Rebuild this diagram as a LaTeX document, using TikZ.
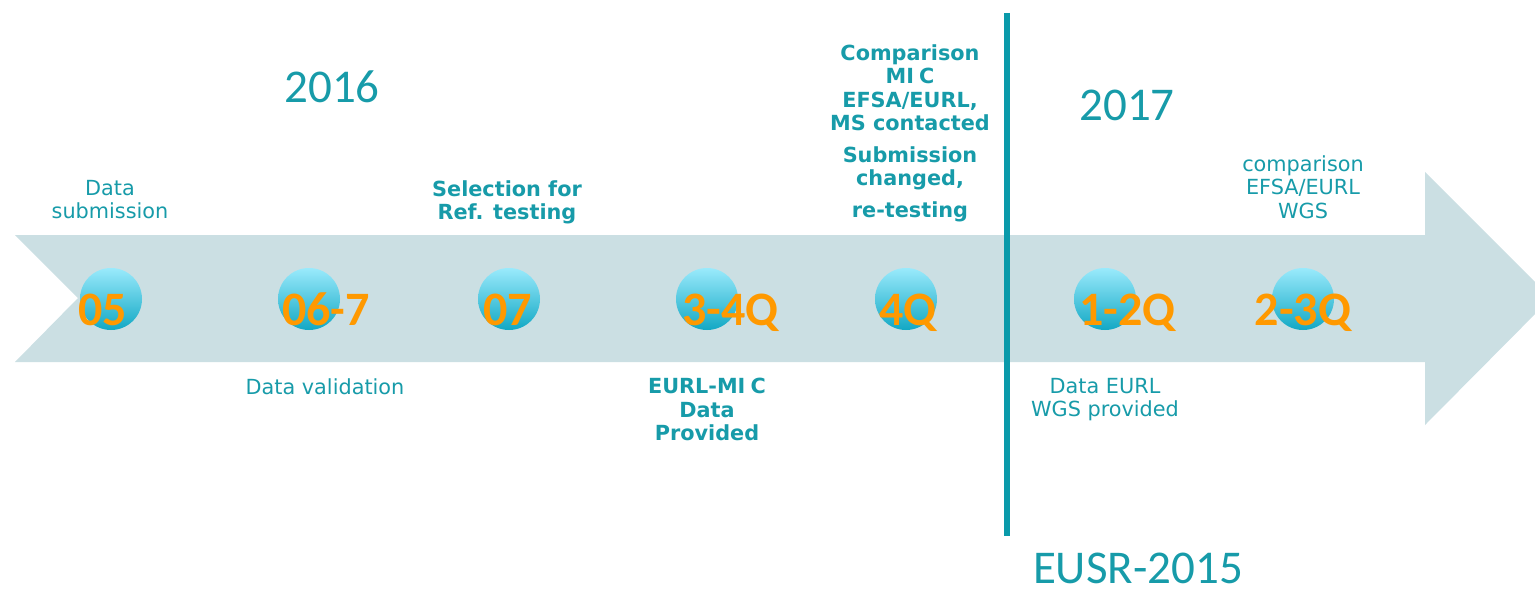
\documentclass[tikz,border=0pt]{standalone}
\usepackage{fontspec}
\setmainfont{DejaVu Sans}
\newfontfamily\calib{Carlito}
\definecolor{tealtxt}{HTML}{179BA9}
\definecolor{vlinec}{HTML}{0A9AAA}
\definecolor{arrowfill}{HTML}{CBDFE3}
\definecolor{orng}{HTML}{FF9900}
\definecolor{ctop}{HTML}{9AEAFC}
\definecolor{cbot}{HTML}{12A8C4}
\begin{document}
\begin{tikzpicture}[x=1pt,y=-1pt,
  txt/.style={text=tealtxt, font=\fontsize{20.8}{23.5}\selectfont, align=center, inner sep=0pt, anchor=north},
  btxt/.style={txt, font=\bfseries\fontsize{20.8}{23.5}\selectfont},
  dot/.style={circle, minimum size=62pt, inner sep=0pt, top color=ctop, bottom color=cbot, draw=none},
  qlabel/.style={text=orng, font=\calib\bfseries\fontsize{48}{50}\selectfont, inner sep=0pt},
  year/.style={text=tealtxt, font=\calib\fontsize{47}{50}\selectfont, inner sep=0pt, anchor=base},
  vline/.style={draw=vlinec, line width=6pt}
]
\useasboundingbox (0,0) rectangle (1535,591);
\clip (0,0) rectangle (1535,591);
% big arrow
\fill[arrowfill] (15,235) -- (1425,235) -- (1425,172) -- (1551,298) -- (1425,425) -- (1425,362) -- (15,362) -- (78,298) -- cycle;
% vertical separator
\coordinate (vt) at (1007,13);
\coordinate (vb) at (1007,536);
\draw[vline] (vt) -- (vb);
% circles
\node[dot] (c1) at (111,299) {};
\node[dot] (c2) at (309,299) {};
\node[dot] (c3) at (509,299) {};
\node[dot] (c4) at (707,299) {};
\node[dot] (c5) at (906,299) {};
\node[dot] (c6) at (1105,299) {};
\node[dot] (c7) at (1303,299) {};
% orange labels
\node[qlabel, anchor=base west] (l1) at (78,325) {05};
\node[qlabel, anchor=base west] (l2) at (282,325) {06-7};
\node[qlabel, anchor=base west] (l3) at (483,325) {07};
\node[qlabel, anchor=base west] (l4) at (682,325) {3-4Q};
\node[qlabel, anchor=base west] (l5) at (879,325) {4Q};
\node[qlabel, anchor=base west] (l6) at (1079,325) {1-2Q};
\node[qlabel, anchor=base] (l7) at (1303,325) {2-3Q};
% years
\node[year] (y16) at (332,103) {2016};
\node[year] (y17) at (1127,121) {2017};
\node[year] (eusr) at (1138,583) {EUSR-2015};
% texts above
\node[txt] (t1) at (110,180) {Data\\submission};
\node[btxt] (t3) at (507,180) {Selection for\\Ref. testing};
\node[btxt] (t5) at (910,44) {Comparison\\MI\kern0.25em C\\EFSA/EURL,\\MS contacted\\[8pt]Submission\\changed,\\[8pt]re-testing};
\node[txt] (t7) at (1303,155) {comparison\\EFSA/EURL\\WGS};
% texts below
\node[txt] (t2) at (325,378) {Data validation};
\node[btxt] (t4) at (707,378) {EURL-MI\kern0.25em C\\Data\\Provided};
\node[txt] (t6) at (1105,378) {Data EURL\\WGS provided};
\end{tikzpicture}
\end{document}
